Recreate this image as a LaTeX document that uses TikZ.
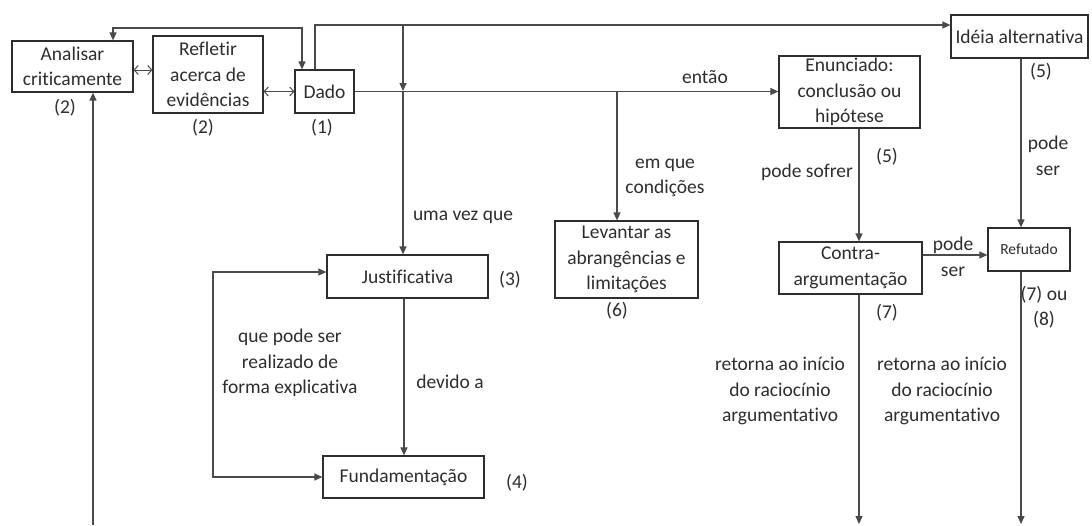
\documentclass[tikz,border=0pt]{standalone}
\usepackage{fontspec}
\setmainfont{Carlito}[Ligatures=NoCommon]
\usetikzlibrary{arrows.meta,calc}
\definecolor{ln}{HTML}{4A4A4A}
\definecolor{tx}{HTML}{2E2E2E}
\begin{document}
\begin{tikzpicture}[x=1pt,y=-1pt,
  box/.style={draw=tx,line width=1.2pt,rectangle,inner sep=0pt,align=center,text=tx,font=\fontsize{19.5}{25.5}\selectfont},
  lbl/.style={inner sep=0pt,align=center,text=tx,font=\fontsize{19.5}{25.5}\selectfont},
  conn/.style={draw=ln,line width=1.3pt},
  arr/.style={conn,-{Triangle[length=8pt,width=7pt]}},
  arrb/.style={conn,{Triangle[length=8pt,width=7pt]}-{Triangle[length=8pt,width=7pt]}},
  dbl/.style={conn,line width=1pt,{Straight Barb[length=4pt,width=9pt]}-{Straight Barb[length=4pt,width=9pt]}}]
\useasboundingbox[fill=white] (0,0) rectangle (1092,525);
% boxes
\node[box,minimum width=121pt,minimum height=51pt] (ana) at (72.5,66.5) {Analisar\\criticamente};
\node[box,minimum width=110pt,minimum height=77pt] (ref) at (208,74.5) {Refletir\\acerca de\\evidências};
\node[box,minimum width=59pt,minimum height=43pt] (dado) at (324.5,91.5) {Dado};
\node[box,minimum width=141pt,minimum height=72pt] (enun) at (849.5,92) {Enunciado:\\conclusão ou\\hipótese};
\node[box,minimum width=137pt,minimum height=43pt] (idea) at (1019.5,36.5) {Idéia alternativa};
\node[box,minimum width=143pt,minimum height=77pt] (lev) at (626.5,259.5) {Levantar as\\abrangências e\\limitações};
\node[box,minimum width=143pt,minimum height=52pt] (contra) at (850.5,268) {Contra-\\argumentação};
\node[box,minimum width=82pt,minimum height=43pt,font=\fontsize{15.5}{18}\selectfont] (refut) at (1029,249.5) {Refutado};
\node[box,minimum width=161pt,minimum height=43pt] (just) at (407.5,276.5) {Justificativa};
\node[box,minimum width=161pt,minimum height=42pt] (fund) at (403.5,477) {Fundamentação};
% helper coordinates
\coordinate (ay) at (0,70);
\coordinate (tl1) at (113,28);
\coordinate (tl2) at (302,28);
\coordinate (tr1) at (315,25);
\coordinate (j1) at (403,25);
\coordinate (j2) at (403,91);
\coordinate (l1) at (617,91);
\coordinate (ex) at (859,0);
\coordinate (rx) at (1021,0);
\coordinate (cy) at (0,255);
\coordinate (bot) at (0,524);
\coordinate (lx) at (93,525);
\coordinate (jx) at (404,0);
\coordinate (lp1) at (213,272);
\coordinate (lp2) at (213,477);
% connectors
\draw[dbl] (ana.east |- ay) -- (ref.west |- ay);
\draw[dbl] (ref.east |- dado.west) -- (dado.west);
\draw[arrb] (ana.north -| tl1) -- (tl1) -- (tl2) -- (tl2 |- dado.north);
\draw[arr] (dado.north -| tr1) -- (tr1) -- (idea.west |- tr1);
\draw[arr] (j1) -- (j2);
\draw[arr] (j2) -- (just.north -| j2);
\draw[arr] (dado.east) -- (enun.west |- dado.east);
\draw[arr] (l1) -- (lev.north -| l1);
\draw[arr] (enun.south -| ex) -- (contra.north -| ex);
\draw[arr] (contra.east |- cy) -- (refut.west |- cy);
\draw[arr] (idea.south -| rx) -- (refut.north -| rx);
\draw[arr] (refut.south -| rx) -- (rx |- bot);
\draw[arr] (contra.south -| ex) -- (ex |- bot);
\draw[arr] (lx) -- (ana.south -| lx);
\draw[arr] (just.south -| jx) -- (fund.north -| jx);
\draw[arrb] (just.west |- lp1) -- (lp1) -- (lp2) -- (fund.west |- lp2);
% labels
\node[lbl] (n2a) at (65,108) {(2)};
\node[lbl] (n2b) at (203,128) {(2)};
\node[lbl] (n1) at (322,128) {(1)};
\node[lbl] (entao) at (705,77) {então};
\node[lbl] (uvq) at (463,217) {uma vez que};
\node[lbl] (emq) at (665,178) {em que\\condições};
\node[lbl] (n6) at (617,311) {(6)};
\node[lbl] (psof) at (807,172) {pode sofrer};
\node[lbl] (n5a) at (887,157) {(5)};
\node[lbl] (n5b) at (1041,72) {(5)};
\node[lbl] (pser1) at (1048,156) {pode\\ser};
\node[lbl] (pser2) at (953,257) {pode\\ser};
\node[lbl] (n7) at (887,313) {(7)};
\node[lbl] (n78) at (1044,307) {(7) ou\\(8)};
\node[lbl] (n3) at (510,280) {(3)};
\node[lbl] (n4) at (517,483) {(4)};
\node[lbl] (dev) at (450,382) {devido a};
\node[lbl] (qps) at (290,363) {que pode ser\\realizado de\\forma explicativa};
\node[lbl] (ret1) at (780,391) {retorna ao início\\do raciocínio\\argumentativo};
\node[lbl] (ret2) at (942,391) {retorna ao início\\do raciocínio\\argumentativo};
\end{tikzpicture}
\end{document}
